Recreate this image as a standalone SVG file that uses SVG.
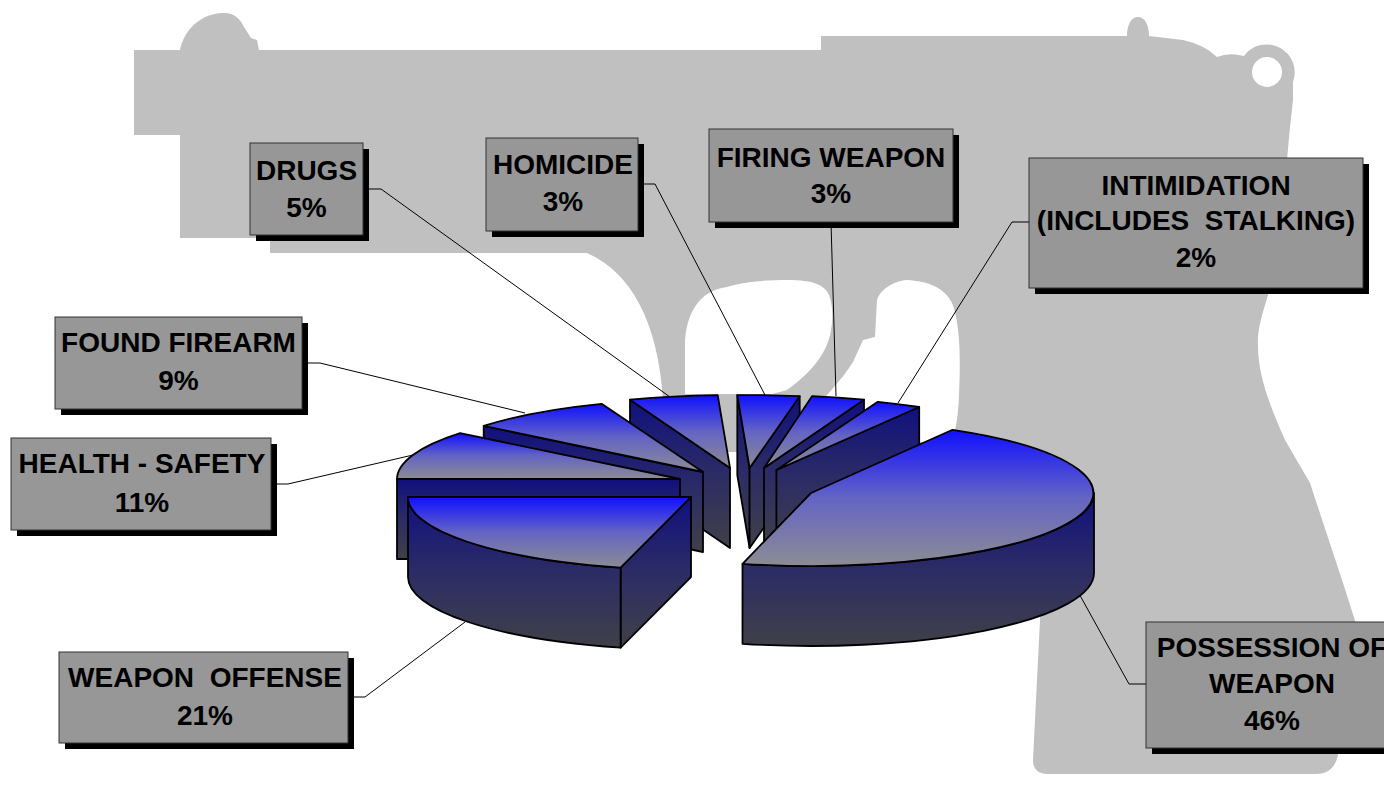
<svg xmlns="http://www.w3.org/2000/svg" width="1384" height="786" viewBox="0 0 1384 786">
<defs>
<linearGradient id="gTop" x1="0" y1="0" x2="0" y2="1">
<stop offset="0" stop-color="#1010ff"/>
<stop offset="0.5" stop-color="#6464c4"/>
<stop offset="1" stop-color="#8c8c94"/>
</linearGradient>
<linearGradient id="gSide" x1="0" y1="0" x2="0" y2="1">
<stop offset="0" stop-color="#10107e"/>
<stop offset="0.5" stop-color="#2c2c66"/>
<stop offset="1" stop-color="#404048"/>
</linearGradient>
<style>
.gun{fill:#c0c0c0;}
.hole{fill:#ffffff;}
.conn{fill:none;stroke:#000;stroke-width:1;}
.top{fill:url(#gTop);stroke:#000;stroke-width:1.8;stroke-linejoin:round;}
.side{fill:url(#gSide);stroke:#000;stroke-width:1.8;stroke-linejoin:round;}
.shadow{fill:#000;}
.box{fill:#979797;stroke:#333;stroke-width:1;}
.lbl{font-family:"Liberation Sans",Arial,sans-serif;font-weight:bold;font-size:28px;fill:#000;text-anchor:middle;}
</style>
</defs>
<rect width="1384" height="786" fill="#ffffff"/>
<g id="gun">
<path class="gun" d="M134,50 L180,50 C183,35 195,15 222,13 C233,12 240,18 244,27 L251,38 L257,40 L259,50 L821,50 L821,36 L1127,36 C1127,25 1131,17 1138,17 C1145,17 1149,25 1149,36 L1183,40 Q1205,45 1217,57 Q1229,52 1244,56 A28,28 0 0 1 1293,82 L1293,100 L1290,127 L1287,160 L1280,230 L1268,295 C1262,315 1257,330 1258,345 C1258,370 1265,395 1285,440 L1310,483 L1343,583 L1358,630 L1350,700 L1338,755 Q1334,774 1316,774 L1048,774 Q1033,774 1033,760 L1036,700 L1040,620 L1040,560 L1000,480 L965,452 L700,452 Q666,445 663,400 C658,320 630,272 587,253 L270,253 L270,238 L180,238 L180,135 L134,135 Z"/>
<circle class="hole" cx="1267" cy="72" r="15"/>
<path class="hole" d="M685,394 L685,340 C688,305 705,290 727,287 C745,282 760,280 790,280 C812,280 825,285 829,295 C833,305 833,320 831,330 C828,350 815,370 787,390 L772,394 Z"/>
<path class="hole" d="M907,280 C928,281 945,288 952,303 C960,322 961,360 959,395 C958,420 955,435 950,442 L870,442 L800,425 C822,400 842,380 853,362 L863,340 L875,337 L877,300 C880,290 893,281 907,280 Z"/>
</g>
<g id="connectors">
<polyline class="conn" points="364,189 381,189 670,397"/>
<polyline class="conn" points="638,184 655,184 765,395"/>
<polyline class="conn" points="831,222 836,396"/>
<polyline class="conn" points="1029,222 1012,222 898,403"/>
<polyline class="conn" points="302,363 320,363 525,413"/>
<polyline class="conn" points="271,484 288,484 413,455"/>
<polyline class="conn" points="348,697 365,697 465,622"/>
<polyline class="conn" points="1146,684 1129,684 1077,590"/>
</g>
<g id="pie">
<g id="slice-drugs">
<path class="side" d="M730,468 L630,399.7 L630,479.7 L730,548 Z"/>
<path class="top" d="M730,468 L630,399.7 A283,73 0 0 1 717.7,395.1 Z"/>
</g>
<g id="slice-homicide">
<path class="side" d="M749.6,468 L737.3,395.1 L737.3,475.1 L749.6,548 Z"/>
<path class="side" d="M749.6,468 L799.7,396.2 L799.7,476.2 L749.6,548 Z"/>
<path class="top" d="M749.6,468 L737.3,395.1 A283,73 0 0 1 799.7,396.2 Z"/>
</g>
<g id="slice-firing">
<path class="side" d="M764,468 L864,399.7 L864,479.7 L764,548 Z"/>
<path class="top" d="M764,468 L812.2,396.1 A283,73 0 0 1 864,399.7 Z"/>
</g>
<g id="slice-intimidation">
<path class="side" d="M776.4,470 L919.2,407 L919.2,487 L776.4,550 Z"/>
<path class="top" d="M776.4,470 L877.8,401.8 A283,73 0 0 1 919.2,407 Z"/>
</g>
<g id="slice-found-firearm">
<path class="side" d="M703,472 L483.7,425.9 L483.7,505.9 L703,552 Z"/>
<path class="top" d="M703,472 L483.7,425.9 A283,73 0 0 1 601.6,403.8 Z"/>
</g>
<g id="slice-health-safety">
<path class="side" d="M680,479 L397,479 L397,559 L680,559 Z"/>
<path class="top" d="M680,479 L397,479 A283,73 0 0 1 460.1,433.1 Z"/>
</g>
<g id="slice-possession">
<path class="side" d="M1094,493 A283,73 0 0 1 742.5,563.8 L742.5,643.8 A283,73 0 0 0 1094,573 Z"/>
<path class="top" d="M811,493 L952.5,429.8 A283,73 0 0 1 742.5,563.8 Z"/>
</g>
<g id="slice-weapon-offense">
<path class="side" d="M691,497 L620.6,567.7 L620.6,647.7 L691,577 Z"/>
<path class="side" d="M620.6,567.7 A283,73 0 0 1 408,497 L408,577 A283,73 0 0 0 620.6,647.7 Z"/>
<path class="top" d="M691,497 L620.6,567.7 A283,73 0 0 1 408,497 Z"/>
</g>
</g>
<g id="node-drugs">
<rect class="shadow" x="256" y="149" width="113" height="92"/>
<rect class="box" x="250" y="143" width="113" height="92"/>
<text class="lbl" x="306.5" y="180">DRUGS</text>
<text class="lbl" x="306.5" y="216.5">5%</text>
</g>
<g id="node-homicide">
<rect class="shadow" x="492" y="144" width="152" height="93"/>
<rect class="box" x="486" y="138" width="152" height="93"/>
<text class="lbl" x="563" y="174">HOMICIDE</text>
<text class="lbl" x="563" y="211">3%</text>
</g>
<g id="node-firing-weapon">
<rect class="shadow" x="715" y="135" width="244" height="93"/>
<rect class="box" x="709" y="129" width="244" height="93"/>
<text class="lbl" x="831" y="167">FIRING WEAPON</text>
<text class="lbl" x="831" y="203">3%</text>
</g>
<g id="node-intimidation">
<rect class="shadow" x="1035" y="164" width="334" height="130"/>
<rect class="box" x="1029" y="158" width="334" height="130"/>
<text class="lbl" x="1196" y="195">INTIMIDATION</text>
<text class="lbl" x="1196" y="230" xml:space="preserve">(INCLUDES  STALKING)</text>
<text class="lbl" x="1196" y="267">2%</text>
</g>
<g id="node-found-firearm">
<rect class="shadow" x="61" y="323" width="247" height="92"/>
<rect class="box" x="55" y="317" width="247" height="92"/>
<text class="lbl" x="178.5" y="352">FOUND FIREARM</text>
<text class="lbl" x="178.5" y="390">9%</text>
</g>
<g id="node-health-safety">
<rect class="shadow" x="17" y="444" width="260" height="92"/>
<rect class="box" x="11" y="438" width="260" height="92"/>
<text class="lbl" x="142" y="473">HEALTH - SAFETY</text>
<text class="lbl" x="142" y="511.5">11%</text>
</g>
<g id="node-weapon-offense">
<rect class="shadow" x="65" y="658" width="289" height="91"/>
<rect class="box" x="59" y="652" width="289" height="91"/>
<text class="lbl" x="205" y="686.5" xml:space="preserve">WEAPON  OFFENSE</text>
<text class="lbl" x="205" y="725">21%</text>
</g>
<g id="node-possession">
<rect class="shadow" x="1152" y="628" width="252" height="126"/>
<rect class="box" x="1146" y="622" width="252" height="126"/>
<text class="lbl" x="1272" y="656.5">POSSESSION OF</text>
<text class="lbl" x="1272" y="693">WEAPON</text>
<text class="lbl" x="1272" y="730">46%</text>
</g>
</svg>
